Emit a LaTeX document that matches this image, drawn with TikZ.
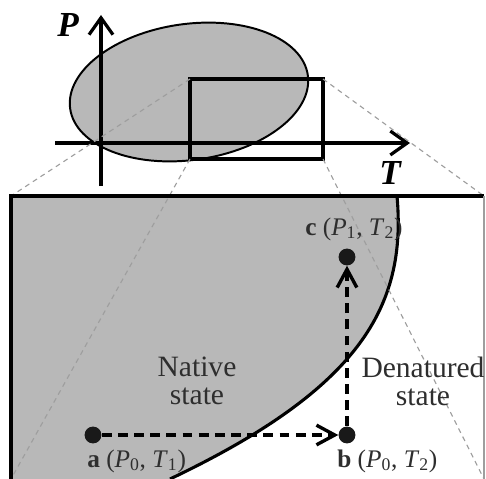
\documentclass[tikz,border=0pt]{standalone}
\usepackage{fontspec}
\setmainfont{Liberation Serif}
\usetikzlibrary{arrows.meta,positioning}
\definecolor{phasegray}{gray}{0.72}
\definecolor{zoomgray}{gray}{0.62}
\definecolor{txtgray}{gray}{0.18}
\tikzset{
  axis/.style={line width=2.3pt,-{Straight Barb[length=12pt,width=17pt]}},
  axlbl/.style={font=\fontsize{25}{25}\selectfont\bfseries\itshape},
  phase/.style={fill=phasegray,draw=black,line width=1.4pt},
  zoombox/.style={draw=black,line width=2.6pt},
  zoomline/.style={zoomgray,line width=0.8pt,dash pattern=on 3.5pt off 3pt},
  border/.style={line width=2.8pt},
  dotpt/.style={circle,fill=black!90,minimum size=12pt,inner sep=0pt},
  dasharr/.style={line width=2.4pt,dash pattern=on 7pt off 4.5pt,-{Straight Barb[length=13pt,width=14pt]}},
  ptlbl/.style={font=\fontsize{18}{18}\selectfont,text=txtgray,anchor=base west,inner sep=0pt},
  statelbl/.style={font=\fontsize{21}{20}\selectfont,text=txtgray,align=center,inner sep=0pt}
}
\newcommand{\pt}[3]{\textbf{#1} (\textit{P}\textsubscript{#2}, \textit{T}\textsubscript{#3})}

\begin{document}
\begin{tikzpicture}[x=0.025cm,y=-0.025cm]
  \useasboundingbox (0,0) rectangle (486,479);

  % small phase diagram
  \draw[phase,shift={(189,92)},rotate=8] (0,0) ellipse (120 and 68);
  \coordinate (sTL) at (190,79);
  \coordinate (sBR) at (323,159);
  \draw[zoombox] (sTL) rectangle (sBR);
  \coordinate (ptop) at (101,15);
  \coordinate (pbot) at (101,186);
  \coordinate (tlft) at (55,143);
  \coordinate (trgt) at (410,143);
  \draw[axis] (pbot) -- (ptop);
  \draw[axis] (tlft) -- (trgt);
  \node[axlbl] (plbl) at (68,25) {P};
  \node[axlbl] (tlbl) at (390,173) {T};

  % enlarged region
  \coordinate (bTL) at (11,196);
  \coordinate (bTR) at (484,196);
  \coordinate (bBL) at (11,479);
  \coordinate (bBR) at (484,479);
  \coordinate (cTop) at (397,196);
  \coordinate (cBot) at (170,479);
  \fill[phasegray] (bTL) -- (cTop) .. controls (407,307) and (359,389) .. (cBot) -- (bBL) -- cycle;
  \draw[line width=2.2pt] (cTop) .. controls (407,307) and (359,389) .. (cBot);

  % zoom guides
  \draw[zoomline] (sTL) -- (bTL);
  \draw[zoomline] (sTL |- sBR) -- (bBL);
  \draw[zoomline] (sBR |- sTL) -- (bTR);
  \draw[zoomline] (sBR) -- (bBR);

  \draw[border] (bBL) -- (bTL) -- (bTR);
  \draw[zoomgray,line width=0.8pt] (bTR) -- (bBR);

  % states
  \node[statelbl] (native) at (197,381) {Native\\state};
  \node[statelbl] (denat) at (423,381) {Denatured\\state};

  % path a -> b -> c
  \node[dotpt] (a) at (93,435) {};
  \node[dotpt] (b) at (347,435) {};
  \node[dotpt] (c) at (347,257) {};
  \draw[dasharr] (a) -- (b);
  \draw[dasharr] (b) -- (c);
  \node[ptlbl] (alab) at (87,467) {\pt{a}{0}{1}};
  \node[ptlbl] (blab) at (337,467) {\pt{b}{0}{2}};
  \node[ptlbl] (clab) at (305,235) {\pt{c}{1}{2}};
\end{tikzpicture}
\end{document}
